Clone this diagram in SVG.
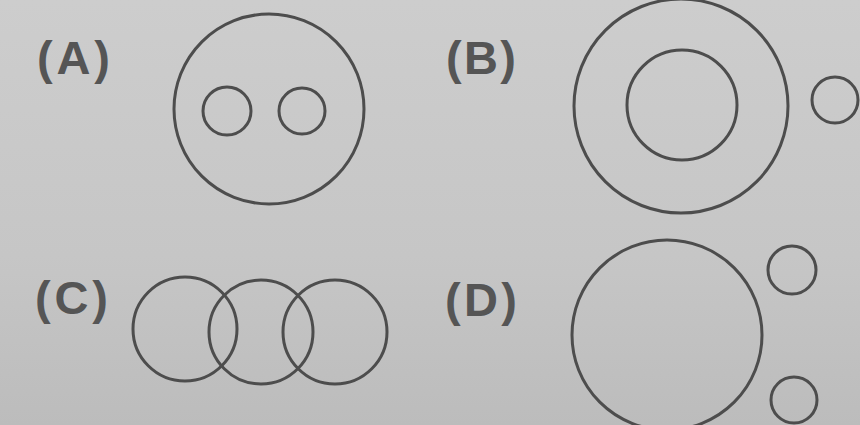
<svg xmlns="http://www.w3.org/2000/svg" width="860" height="425" viewBox="0 0 860 425">
<defs>
<linearGradient id="bg" x1="0" y1="0" x2="0" y2="1">
<stop offset="0" stop-color="#cdcdcd"/>
<stop offset="0.6" stop-color="#c6c6c6"/>
<stop offset="1" stop-color="#bcbcbc"/>
</linearGradient>
</defs>
<style>
.c{fill:none;stroke:#4d4d4d;stroke-width:3}
.l{font-family:"Liberation Sans",Arial,sans-serif;font-size:47px;font-weight:bold;fill:#555}
</style>
<rect width="860" height="425" fill="url(#bg)"/>
<g id="A">
<text class="l" x="37" y="74" textLength="73">(A)</text>
<circle class="c" cx="269" cy="109" r="95"/>
<circle class="c" cx="227" cy="111" r="24"/>
<circle class="c" cx="302" cy="111" r="23"/>
</g>
<g id="B">
<text class="l" x="446" y="74" textLength="70">(B)</text>
<circle class="c" cx="681" cy="106" r="107"/>
<circle class="c" cx="682" cy="105" r="55"/>
<circle class="c" cx="835" cy="100" r="23"/>
</g>
<g id="C">
<text class="l" x="35" y="314" textLength="73">(C)</text>
<circle class="c" cx="185" cy="329" r="52"/>
<circle class="c" cx="261" cy="332" r="52"/>
<circle class="c" cx="335" cy="332" r="52"/>
</g>
<g id="D">
<text class="l" x="445" y="316" textLength="72">(D)</text>
<circle class="c" cx="667" cy="335" r="95"/>
<circle class="c" cx="792" cy="270" r="24"/>
<circle class="c" cx="794" cy="400" r="23"/>
</g>
</svg>
